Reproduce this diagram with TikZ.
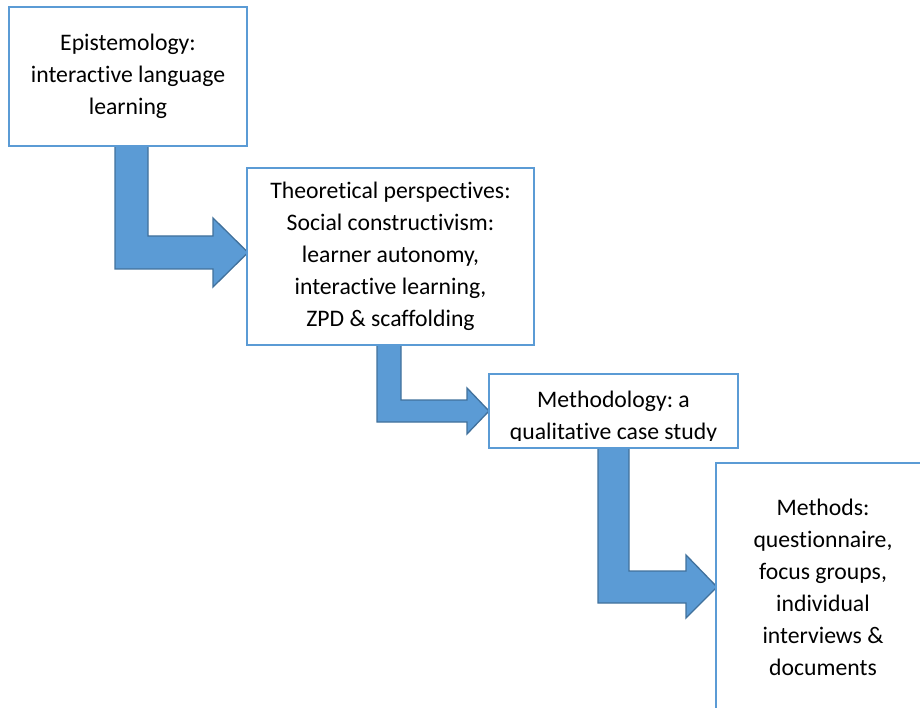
\documentclass[tikz,border=0pt]{standalone}
\usepackage{fontspec}
\setmainfont[Ligatures=NoCommon]{Carlito}
\frenchspacing
\definecolor{boxblue}{HTML}{5B9BD5}
\definecolor{arrowfill}{HTML}{5B9BD5}
\definecolor{arrowline}{HTML}{41719C}
\begin{document}
\begin{tikzpicture}[x=1pt,y=-1pt,
  box/.style={draw=boxblue, line width=2pt, fill=white, align=center, inner sep=0pt,
    font=\fontsize{23.7}{32}\selectfont},
  txt/.style={align=center, inner sep=0pt, font=\fontsize{23.7}{32}\selectfont},
  bentarrow/.style={fill=arrowfill, draw=arrowline, line width=1.3pt, line join=miter}]
\useasboundingbox (0,0) rectangle (920,708);
% arrows
\draw[bentarrow] (115,146) -- (148,146) -- (148,236) -- (213,236) -- (213,218) -- (248,252.5)
  -- (213,287) -- (213,269) -- (115,269) -- cycle;
\draw[bentarrow] (377,345) -- (401,345) -- (401,400) -- (467,400) -- (467,388) -- (489,411)
  -- (467,434) -- (467,422) -- (377,422) -- cycle;
\draw[bentarrow] (598,448) -- (629,448) -- (629,571) -- (686,571) -- (686,555) -- (717,587)
  -- (686,618) -- (686,603) -- (598,603) -- cycle;
% boxes
\node[box, minimum width=238pt, minimum height=139pt] (b1) at (128,76.5)
  {Epistemology:\\interactive language\\learning};
\node[box, minimum width=287pt, minimum height=177pt] (b2) at (390.5,256.5)
  {Theoretical perspectives:\\Social constructivism:\\learner autonomy,\\interactive learning,\\ZPD \& scaffolding};
\node[box, minimum width=249pt, minimum height=74pt] (b3) at (613.5,411) {};
\begin{scope}
\clip (490,375) rectangle (737,440.5);
\node[txt] (t3) at (613.5,417) {Methodology: a\\qualitative case study};
\end{scope}
\begin{scope}
\clip (0,0) rectangle (920,708);
\node[box, minimum width=230pt, minimum height=260pt] (b4) at (831,593) {};
\end{scope}
\node[txt] (t4) at (823,587.5) {Methods:\\questionnaire,\\focus groups,\\individual\\interviews \&\\documents};
\end{tikzpicture}
\end{document}
